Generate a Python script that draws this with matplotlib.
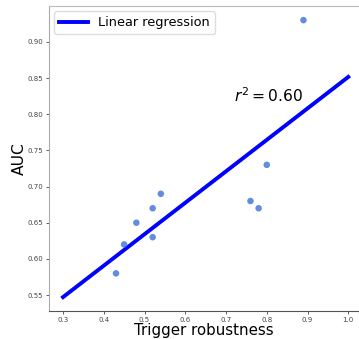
import numpy as np
import matplotlib
matplotlib.use("Agg")
import matplotlib.pyplot as plt

# Data
trigger_robustness = [0.43, 0.45, 0.48, 0.52, 0.52, 0.54, 0.76, 0.78, 0.80, 0.89]
auc = [0.58, 0.62, 0.65, 0.67, 0.63, 0.69, 0.68, 0.67, 0.73, 0.93]
fit_range = [0.3, 1.0]
r2_label = "0.60"
x_ticks = [0.3, 0.4, 0.5, 0.6, 0.7, 0.8, 0.9, 1.0]
y_ticks = [0.55, 0.60, 0.65, 0.70, 0.75, 0.80, 0.85, 0.90]

fig = plt.figure(figsize=(3.59, 3.39), dpi=100)
ax = fig.add_axes([0.1365, 0.0826, 0.862, 0.9])

slope, intercept = np.polyfit(trigger_robustness, auc, 1)
xs = np.array(fit_range)
ax.plot(xs, slope * xs + intercept, color="blue", lw=2.8, label="Linear regression", zorder=2)
ax.scatter(trigger_robustness, auc, s=22, color="#3a6fd8", alpha=0.8, edgecolors="none", zorder=3)

ax.text(0.72, 0.825, r"$r^2 = $" + r2_label, fontsize=11.2, ha="left", va="center")

ax.set_xlim(0.2656, 1.025)
ax.set_ylim(0.528, 0.9497)
ax.set_xticks(x_ticks)
ax.set_xticklabels([f"{v:.1f}" for v in x_ticks])
ax.set_yticks(y_ticks)
ax.set_yticklabels([f"{v:.2f}" for v in y_ticks])
ax.tick_params(labelsize=5, colors="#444444", length=2.5, width=0.6, pad=2)

ax.set_xlabel("Trigger robustness", fontsize=10.8)
ax.xaxis.label.set_va("baseline")
ax.xaxis.set_label_coords(0.5, -0.079)
ax.set_ylabel("AUC", fontsize=11.2)
ax.yaxis.set_label_coords(-0.07, 0.5)

ax.spines["right"].set_visible(False)
ax.spines["top"].set_color("#bbbbbb")
ax.spines["left"].set_color("#aaaaaa")
ax.spines["bottom"].set_color("#555555")
for s in ax.spines.values():
    s.set_linewidth(0.8)

ax.legend(loc="upper left", fontsize=9.3, handlelength=2.2, borderaxespad=0.4,
          framealpha=1, edgecolor="#dddddd")

fig.savefig("out.png", dpi=100)
